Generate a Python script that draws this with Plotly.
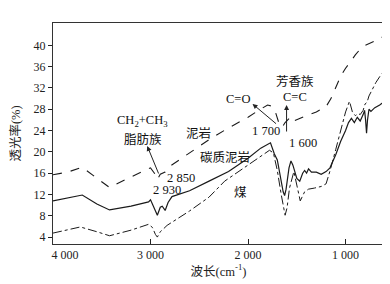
import plotly.graph_objects as go

# 泥岩 (mudstone) - dashed
mud_x = [4000, 3850, 3700, 3550, 3420, 3200, 3000, 2960, 2930, 2900, 2850, 2800, 2600, 2400,
         2200, 2000, 1900, 1800, 1760, 1720, 1680, 1650, 1620, 1580, 1560, 1530, 1500, 1400,
         1300, 1200, 1150, 1100, 1050, 1000, 950, 900, 850, 800, 700, 600]
mud_y = [15.7, 16.2, 17.1, 15.0, 13.3, 15.3, 17.0, 16.0, 14.8, 15.8, 16.2, 17.3, 19.8, 22.3,
         24.5, 26.5, 27.7, 28.8, 28.6, 27.5, 25.2, 24.6, 25.5, 26.3, 26.6, 25.8, 26.0, 26.8,
         27.5, 28.5, 30.0, 32.0, 34.2, 35.7, 37.0, 38.2, 39.3, 40.0, 40.8, 41.8]

# 碳质泥岩 (carbonaceous mudstone) - solid
carb_x = [4000, 3850, 3700, 3550, 3420, 3200, 3020, 3000, 2960, 2930, 2900, 2880, 2850, 2820,
          2780, 2600, 2400, 2200, 2000, 1870, 1770, 1730, 1700, 1670, 1640, 1625, 1610, 1580,
          1560, 1540, 1500, 1470, 1440, 1420, 1400, 1380, 1350, 1300, 1250, 1200, 1160, 1100,
          1050, 1000, 970, 940, 910, 880, 850, 820, 805, 795, 785, 775, 760, 740, 700, 650, 600]
carb_y = [10.8, 11.3, 11.9, 10.2, 9.1, 9.8, 10.6, 11.0, 9.5, 8.1, 9.6, 9.8, 9.0, 10.5,
          11.6, 12.7, 14.5, 16.3, 18.8, 20.7, 21.7, 19.6, 18.5, 15.5, 12.5, 11.8, 13.0, 17.0,
          18.3, 17.5, 15.0, 14.5, 16.0, 16.5, 16.0, 16.8, 16.2, 16.2, 15.8, 16.3, 17.0, 19.5,
          22.0, 24.0, 25.5, 26.3, 25.5, 26.5, 25.8, 27.0, 27.8, 26.0, 23.5, 26.0, 28.0, 27.6,
          28.3, 28.8, 29.5]

# 煤 (coal) - dash-dot
coal_x = [4000, 3850, 3720, 3550, 3420, 3200, 3020, 2980, 2950, 2930, 2900, 2870, 2830, 2600,
          2400, 2240, 2000, 1850, 1780, 1740, 1700, 1660, 1620, 1600, 1575, 1530, 1500, 1465,
          1420, 1380, 1320, 1250, 1200, 1160, 1100, 1050, 1000, 960, 930, 900, 870, 850, 820,
          800, 780, 760, 720, 690, 640, 600]
coal_y = [4.75, 5.3, 5.9, 5.0, 4.25, 5.3, 6.4, 5.8, 4.5, 4.0, 5.0, 5.5, 6.2, 8.9,
          11.5, 14.5, 17.5, 19.5, 20.3, 19.8, 16.5, 12.0, 8.1, 9.5, 13.2, 16.3, 13.5, 10.8,
          12.5, 13.0, 13.2, 13.5, 14.0, 16.4, 20.5, 24.0, 27.5, 29.5, 27.5, 26.8, 27.2, 27.0, 27.8,
          29.0, 29.3, 30.5, 32.0, 33.0, 34.4, 35.2]

x_ticks = [4000, 3000, 2000, 1000]
x_ticktext = ["\u00a0" * 8 + "4 000", "3 000", "2 000", "1 000"]
y_ticks = [4, 8, 12, 16, 20, 24, 28, 32, 36, 40]

FONT = "'Liberation Serif', 'Times New Roman', 'Noto Sans CJK SC', serif"
line_col = "#1a1a1a"

fig = go.Figure()
fig.add_trace(go.Scatter(x=mud_x, y=mud_y, mode="lines", name="泥岩",
                         line=dict(color=line_col, width=1.1, dash="dash")))
fig.add_trace(go.Scatter(x=carb_x, y=carb_y, mode="lines", name="碳质泥岩",
                         line=dict(color=line_col, width=1.2)))
fig.add_trace(go.Scatter(x=coal_x, y=coal_y, mode="lines", name="煤",
                         line=dict(color=line_col, width=1.0, dash="dashdot")))

labels = [
    ("CH<sub>2</sub>+CH<sub>3</sub>", 3085, 25.8),
    ("脂肪族", 3075, 22.4),
    ("2 850", 2684, 15.1),
    ("2 930", 2828, 12.8),
    ("泥岩", 2509, 23.5),
    ("碳质泥岩", 2232, 19.0),
    ("煤", 2078, 12.3),
    ("C=O", 2098, 30.0),
    ("1 700", 1821, 23.9),
    ("芳香族", 1523, 33.2),
    ("C=C", 1523, 30.3),
    ("1 600", 1440, 21.7),
]
for t, xx, yy in labels:
    fig.add_annotation(x=xx, y=yy, text=t, showarrow=False,
                       font=dict(family=FONT, size=12.5, color="#111"))

# arrows: head at (x, y), tail offset in pixels (ax, ay)
arrows = [(3034, 21.1, 12, 29), (1954, 29.0, 25, 21), (1605, 28.8, 0, 28)]
for xx, yy, ax, ay in arrows:
    fig.add_annotation(x=xx, y=yy, ax=ax, ay=ay, axref="pixel", ayref="pixel",
                       text="", showarrow=True, arrowhead=2, arrowsize=1,
                       arrowwidth=1, arrowcolor="#222", standoff=0)

fig.update_layout(
    width=390, height=284,
    margin=dict(l=45, r=14, t=15, b=48),
    paper_bgcolor="white", plot_bgcolor="white",
    showlegend=False,
    font=dict(family=FONT, size=12, color="#222"),
    xaxis=dict(range=[4000, 606], tickvals=x_ticks, ticktext=x_ticktext,
               ticks="inside", ticklen=5, tickcolor="#222",
               showgrid=False, zeroline=False, automargin=False,
               showline=True, mirror=True, linecolor="#333", linewidth=1,
               title=dict(text="波长(cm<sup>-1</sup>)", standoff=1,
                          font=dict(family=FONT, size=12.5))),
    yaxis=dict(range=[2.7, 44.2], tickvals=y_ticks,
               ticks="outside", ticklen=4, tickcolor="#222",
               showgrid=False, zeroline=False, automargin=False,
               showline=True, mirror=True, linecolor="#333", linewidth=1,
               title=dict(text="透光率(%)", standoff=16,
                          font=dict(family=FONT, size=12.5))),
)

fig.write_html("out.html")
